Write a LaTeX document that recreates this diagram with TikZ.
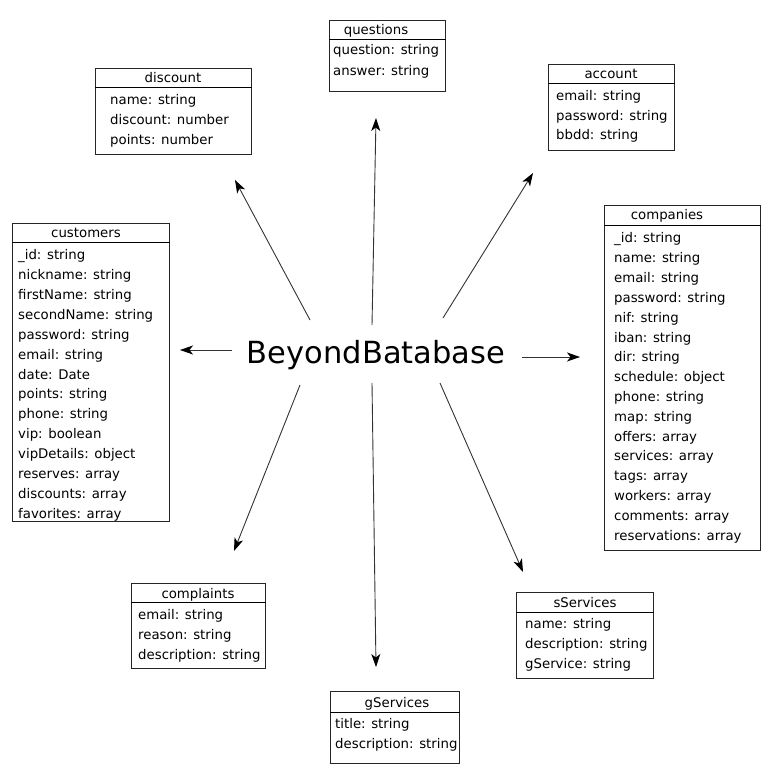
\documentclass[tikz,border=0pt]{standalone}
\usepackage{fontspec}
\setmainfont{DejaVu Sans}
\usetikzlibrary{arrows.meta}
\tikzset{
  tbox/.style={draw=black!85, line width=0.9pt, anchor=north west, inner sep=0pt, fill=white},
  hline/.style={draw=black, line width=1pt},
  hdr/.style={anchor=base, inner sep=0pt, font=\fontsize{13.3}{16}\selectfont},
  fld/.style={anchor=base west, inner sep=0pt, font=\fontsize{13.3}{16}\selectfont},
  conn/.style={draw=black!80, line width=0.9pt, -{Stealth[length=13pt,width=9pt,inset=3.5pt,color=black,fill=black]}},
  ttl/.style={anchor=base, inner sep=0pt, font=\fontsize{30.5}{36}\selectfont}
}
\begin{document}
\begin{tikzpicture}[x=1pt,y=-1pt]
\useasboundingbox (0,0) rectangle (775,775);
\fill[white] (0,0) rectangle (775,775);

% title
\node[ttl] (title) at (376,363) {BeyondBatabase};

% discount
\node[tbox, minimum width=156pt, minimum height=86pt] (discount) at (95,68) {};
\draw[hline] ([yshift=-20pt]discount.north west) -- ([yshift=-20pt]discount.north east);
\node[hdr] (discountH) at (173,83) {discount};
\foreach \t [count=\i] in {name: string, discount: number, points: number}
  \node[fld] (discount\i) at (110,{105+19.7*(\i-1)}) {\t};

% questions
\node[tbox, minimum width=116pt, minimum height=71pt] (questions) at (329,20) {};
\draw[hline] ([yshift=-20pt]questions.north west) -- ([yshift=-20pt]questions.north east);
\node[hdr] (questionsH) at (376,35) {questions};
\foreach \t [count=\i] in {question: string, answer: string}
  \node[fld] (questions\i) at (333,{55+20.5*(\i-1)}) {\t};

% account
\node[tbox, minimum width=126pt, minimum height=86pt] (account) at (548,64) {};
\draw[hline] ([yshift=-20pt]account.north west) -- ([yshift=-20pt]account.north east);
\node[hdr] (accountH) at (611,79) {account};
\foreach \t [count=\i] in {email: string, password: string, bbdd: string}
  \node[fld] (account\i) at (556,{101+19.3*(\i-1)}) {\t};

% customers
\node[tbox, minimum width=157pt, minimum height=298pt] (customers) at (12,223) {};
\draw[hline] ([yshift=-20pt]customers.north west) -- ([yshift=-20pt]customers.north east);
\node[hdr] (customersH) at (86,238) {customers};
\foreach \t [count=\i] in {\_id: string, nickname: string, firstName: string, secondName: string, password: string, email: string, date: Date, points: string, phone: string, vip: boolean, vipDetails: object, reserves: array, discounts: array, favorites: array}
  \node[fld] (customers\i) at (18,{260+19.85*(\i-1)}) {\t};

% companies
\node[tbox, minimum width=156pt, minimum height=345pt] (companies) at (604,205) {};
\draw[hline] ([yshift=-21pt]companies.north west) -- ([yshift=-21pt]companies.north east);
\node[hdr] (companiesH) at (667,220) {companies};
\foreach \t [count=\i] in {\_id: string, name: string, email: string, password: string, nif: string, iban: string, dir: string, schedule: object, phone: string, map: string, offers: array, services: array, tags: array, workers: array, comments: array, reservations: array}
  \node[fld] (companies\i) at (614,{243+19.8*(\i-1)}) {\t};

% complaints
\node[tbox, minimum width=134pt, minimum height=85pt] (complaints) at (131,583) {};
\draw[hline] ([yshift=-19pt]complaints.north west) -- ([yshift=-19pt]complaints.north east);
\node[hdr] (complaintsH) at (198,598) {complaints};
\foreach \t [count=\i] in {email: string, reason: string, description: string}
  \node[fld] (complaints\i) at (138,{619+20*(\i-1)}) {\t};

% sServices
\node[tbox, minimum width=137pt, minimum height=86pt] (sServices) at (516,592) {};
\draw[hline] ([yshift=-20pt]sServices.north west) -- ([yshift=-20pt]sServices.north east);
\node[hdr] (sServicesH) at (585,607) {sServices};
\foreach \t [count=\i] in {name: string, description: string, gService: string}
  \node[fld] (sServices\i) at (525,{628+20*(\i-1)}) {\t};

% gServices
\node[tbox, minimum width=129pt, minimum height=72pt] (gServices) at (330,691) {};
\draw[hline] ([yshift=-21pt]gServices.north west) -- ([yshift=-21pt]gServices.north east);
\node[hdr] (gServicesH) at (397,707) {gServices};
\foreach \t [count=\i] in {title: string, description: string}
  \node[fld] (gServices\i) at (335,{728+20*(\i-1)}) {\t};

% connector end points
\coordinate (s1) at (310,320); \coordinate (e1) at (235,180);
\coordinate (s2) at (372,325); \coordinate (e2) at (376,118);
\coordinate (s3) at (443,318); \coordinate (e3) at (533,173);
\coordinate (s4) at (232,350); \coordinate (e4) at (180,350);
\coordinate (s5) at (522,357); \coordinate (e5) at (580,357);
\coordinate (s6) at (300,385); \coordinate (e6) at (234,551);
\coordinate (s7) at (372,383); \coordinate (e7) at (376,667);
\coordinate (s8) at (440,383); \coordinate (e8) at (523,572);
\foreach \k in {1,...,8} \draw[conn] (s\k) -- (e\k);
\end{tikzpicture}
\end{document}
